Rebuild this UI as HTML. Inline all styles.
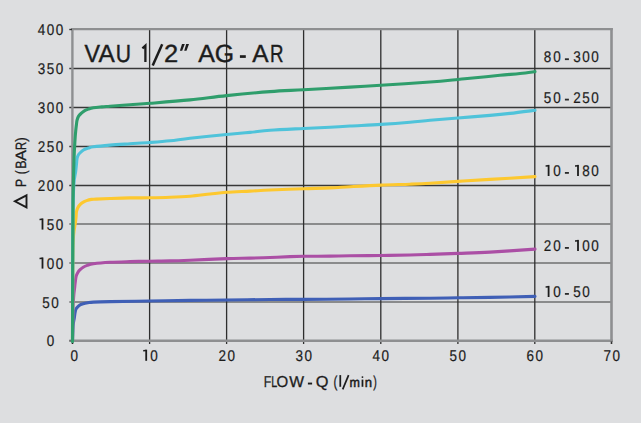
<!DOCTYPE html>
<html><head><meta charset="utf-8"><style>
html,body{margin:0;padding:0;background:#dddee0;width:641px;height:423px;overflow:hidden}
svg{position:absolute;left:0;top:0;display:block}
text{font-family:"Liberation Sans",sans-serif;text-rendering:geometricPrecision}
</style></head><body>
<svg width="641" height="423" viewBox="0 0 641 423">
<rect x="0" y="0" width="641" height="423" fill="#dddee0"/>
<line x1="69.3" y1="302.00" x2="611.5" y2="302.00" stroke="#383838" stroke-width="1.2"/>
<line x1="69.3" y1="263.00" x2="611.5" y2="263.00" stroke="#383838" stroke-width="1.2"/>
<line x1="69.3" y1="224.00" x2="611.5" y2="224.00" stroke="#383838" stroke-width="1.2"/>
<line x1="69.3" y1="185.50" x2="611.5" y2="185.50" stroke="#383838" stroke-width="1.5"/>
<line x1="69.3" y1="146.50" x2="611.5" y2="146.50" stroke="#383838" stroke-width="1.5"/>
<line x1="69.3" y1="107.50" x2="611.5" y2="107.50" stroke="#383838" stroke-width="1.5"/>
<line x1="69.3" y1="68.50" x2="611.5" y2="68.50" stroke="#383838" stroke-width="1.5"/>
<line x1="149.60" y1="29" x2="149.60" y2="344" stroke="#2e2e2e" stroke-width="1.3"/>
<line x1="226.60" y1="29" x2="226.60" y2="344" stroke="#2e2e2e" stroke-width="1.3"/>
<line x1="303.60" y1="29" x2="303.60" y2="344" stroke="#2e2e2e" stroke-width="1.3"/>
<line x1="380.80" y1="29" x2="380.80" y2="344" stroke="#2e2e2e" stroke-width="1.3"/>
<line x1="457.90" y1="29" x2="457.90" y2="344" stroke="#2e2e2e" stroke-width="1.3"/>
<line x1="534.80" y1="29" x2="534.80" y2="344" stroke="#2e2e2e" stroke-width="1.3"/>
<line x1="71.2" y1="29.1" x2="612.8" y2="29.1" stroke="#8e8f91" stroke-width="2.1"/>
<line x1="611.5" y1="28.05" x2="611.5" y2="341.95" stroke="#8e8f91" stroke-width="2.6"/>
<line x1="69.3" y1="340.75" x2="612.8" y2="340.75" stroke="#8e8f91" stroke-width="2.4"/>
<line x1="72.4" y1="28.05" x2="72.4" y2="341.95" stroke="#8e8f91" stroke-width="2.4"/>
<line x1="69.3" y1="29.5" x2="72" y2="29.5" stroke="#333" stroke-width="1.4"/>
<line x1="69.3" y1="340.75" x2="72" y2="340.75" stroke="#666" stroke-width="1.4"/>
<line x1="72.5" y1="341.5" x2="72.5" y2="344" stroke="#222" stroke-width="1.6"/>
<line x1="611.5" y1="341.5" x2="611.5" y2="344" stroke="#333" stroke-width="1.6"/>
<path d="M72.50,341.00 C72.62,338.33 72.90,328.83 73.20,325.00 C73.50,321.17 73.97,320.17 74.30,318.00 C74.63,315.83 74.90,313.52 75.20,312.00 C75.50,310.48 75.68,309.77 76.10,308.90 C76.52,308.03 77.03,307.47 77.70,306.80 C78.37,306.13 79.18,305.42 80.10,304.90 C81.02,304.38 81.92,304.05 83.20,303.70 C84.48,303.35 86.10,303.07 87.80,302.80 C89.50,302.53 89.70,302.30 93.40,302.10 C97.10,301.90 100.63,301.78 110.00,301.60 C119.37,301.42 136.27,301.20 149.60,301.00 C162.93,300.80 177.17,300.57 190.00,300.40 C202.83,300.23 213.27,300.15 226.60,300.00 C239.93,299.85 257.17,299.61 270.00,299.50 C282.83,299.39 290.27,299.43 303.60,299.35 C316.93,299.27 337.13,299.12 350.00,299.00 C362.87,298.88 367.47,298.73 380.80,298.60 C394.13,298.47 417.15,298.33 430.00,298.20 C442.85,298.07 447.90,297.93 457.90,297.80 C467.90,297.67 477.15,297.63 490.00,297.40 C502.85,297.17 527.50,296.57 535.00,296.40" fill="none" stroke="#3f5fb6" stroke-width="3.1" stroke-linecap="round" stroke-linejoin="round"/>
<path d="M72.50,341.00 C72.57,335.83 72.68,317.67 72.90,310.00 C73.12,302.33 73.52,298.67 73.80,295.00 C74.08,291.33 74.37,290.07 74.60,288.00 C74.83,285.93 74.95,284.53 75.20,282.60 C75.45,280.67 75.68,278.04 76.10,276.40 C76.52,274.76 77.03,273.87 77.70,272.75 C78.37,271.63 79.18,270.62 80.10,269.70 C81.02,268.77 82.02,267.92 83.20,267.20 C84.38,266.48 85.50,265.97 87.20,265.40 C88.90,264.83 89.60,264.32 93.40,263.80 C97.20,263.28 103.90,262.67 110.00,262.30 C116.10,261.93 123.40,261.78 130.00,261.60 C136.60,261.42 142.93,261.32 149.60,261.20 C156.27,261.08 163.27,261.07 170.00,260.90 C176.73,260.73 180.57,260.58 190.00,260.20 C199.43,259.82 216.60,258.95 226.60,258.60 C236.60,258.25 242.77,258.28 250.00,258.10 C257.23,257.92 263.33,257.75 270.00,257.50 C276.67,257.25 284.40,256.80 290.00,256.60 C295.60,256.40 296.93,256.38 303.60,256.30 C310.27,256.22 322.27,256.18 330.00,256.10 C337.73,256.02 341.53,255.90 350.00,255.80 C358.47,255.70 370.80,255.63 380.80,255.50 C390.80,255.37 401.80,255.18 410.00,255.00 C418.20,254.82 422.02,254.67 430.00,254.40 C437.98,254.13 447.90,253.78 457.90,253.40 C467.90,253.02 477.15,252.82 490.00,252.10 C502.85,251.38 527.50,249.60 535.00,249.10" fill="none" stroke="#ab4fa5" stroke-width="3.1" stroke-linecap="round" stroke-linejoin="round"/>
<path d="M72.50,341.00 C72.55,327.50 72.62,277.67 72.80,260.00 C72.98,242.33 73.15,241.33 73.60,235.00 C74.05,228.67 75.08,225.07 75.50,222.00 C75.92,218.93 75.94,218.32 76.10,216.60 C76.26,214.88 76.18,213.13 76.45,211.70 C76.72,210.27 77.14,209.13 77.70,208.00 C78.26,206.87 78.93,205.83 79.80,204.90 C80.67,203.97 81.77,203.12 82.90,202.40 C84.03,201.68 85.17,201.10 86.60,200.60 C88.03,200.10 89.93,199.65 91.50,199.40 C93.07,199.15 92.92,199.25 96.00,199.10 C99.08,198.95 104.33,198.70 110.00,198.50 C115.67,198.30 123.40,198.02 130.00,197.90 C136.60,197.78 142.93,197.90 149.60,197.80 C156.27,197.70 163.27,197.57 170.00,197.30 C176.73,197.03 183.33,196.75 190.00,196.20 C196.67,195.65 203.90,194.65 210.00,194.00 C216.10,193.35 219.93,192.78 226.60,192.30 C233.27,191.82 242.77,191.48 250.00,191.10 C257.23,190.72 261.07,190.39 270.00,190.00 C278.93,189.61 293.60,189.10 303.60,188.75 C313.60,188.40 322.27,188.24 330.00,187.90 C337.73,187.56 341.53,187.17 350.00,186.70 C358.47,186.23 370.80,185.52 380.80,185.10 C390.80,184.68 401.80,184.50 410.00,184.20 C418.20,183.90 422.02,183.77 430.00,183.30 C437.98,182.83 447.90,182.05 457.90,181.40 C467.90,180.75 477.15,180.20 490.00,179.40 C502.85,178.60 527.50,177.07 535.00,176.60" fill="none" stroke="#fdc82f" stroke-width="3.1" stroke-linecap="round" stroke-linejoin="round"/>
<path d="M72.50,341.00 C72.57,320.83 72.68,246.00 72.90,220.00 C73.12,194.00 73.35,193.00 73.80,185.00 C74.25,177.00 75.16,175.43 75.60,172.00 C76.04,168.57 76.20,166.70 76.45,164.40 C76.70,162.10 76.74,159.85 77.10,158.20 C77.46,156.55 77.93,155.57 78.60,154.50 C79.27,153.43 80.18,152.62 81.10,151.80 C82.02,150.98 82.88,150.22 84.10,149.60 C85.32,148.98 86.85,148.57 88.40,148.10 C89.95,147.63 89.80,147.30 93.40,146.80 C97.00,146.30 103.90,145.61 110.00,145.10 C116.10,144.59 123.40,144.18 130.00,143.75 C136.60,143.32 142.93,142.99 149.60,142.50 C156.27,142.01 163.27,141.52 170.00,140.80 C176.73,140.08 180.57,139.25 190.00,138.20 C199.43,137.15 216.60,135.47 226.60,134.50 C236.60,133.53 242.77,133.10 250.00,132.40 C257.23,131.70 261.07,130.95 270.00,130.30 C278.93,129.65 293.60,129.01 303.60,128.50 C313.60,127.99 322.27,127.67 330.00,127.25 C337.73,126.83 341.53,126.47 350.00,126.00 C358.47,125.53 370.80,125.03 380.80,124.40 C390.80,123.78 401.80,122.95 410.00,122.25 C418.20,121.55 422.02,120.91 430.00,120.20 C437.98,119.49 447.90,118.80 457.90,118.00 C467.90,117.20 481.32,116.17 490.00,115.40 C498.68,114.63 502.50,114.25 510.00,113.40 C517.50,112.55 530.83,110.82 535.00,110.30" fill="none" stroke="#4fc3da" stroke-width="3.1" stroke-linecap="round" stroke-linejoin="round"/>
<path d="M72.50,341.50 C72.52,332.92 72.50,313.58 72.60,290.00 C72.70,266.42 72.87,221.67 73.10,200.00 C73.33,178.33 73.68,170.00 74.00,160.00 C74.32,150.00 74.70,145.00 75.00,140.00 C75.30,135.00 75.55,132.67 75.80,130.00 C76.05,127.33 76.28,125.67 76.50,124.00 C76.72,122.33 76.75,121.32 77.10,120.00 C77.45,118.68 77.88,117.25 78.60,116.10 C79.32,114.95 80.38,114.02 81.40,113.10 C82.43,112.18 83.58,111.27 84.75,110.60 C85.92,109.93 86.96,109.57 88.40,109.10 C89.84,108.63 91.15,108.17 93.40,107.80 C95.65,107.43 99.13,107.16 101.90,106.90 C104.67,106.64 105.32,106.62 110.00,106.25 C114.68,105.88 123.33,105.19 130.00,104.70 C136.67,104.21 140.00,104.10 150.00,103.30 C160.00,102.50 177.23,101.18 190.00,99.90 C202.77,98.62 213.27,96.98 226.60,95.60 C239.93,94.22 257.17,92.57 270.00,91.60 C282.83,90.62 290.27,90.50 303.60,89.75 C316.93,89.00 337.13,87.85 350.00,87.10 C362.87,86.35 367.47,86.10 380.80,85.25 C394.13,84.40 417.15,82.96 430.00,82.00 C442.85,81.04 451.23,80.12 457.90,79.50 C464.57,78.88 462.98,79.00 470.00,78.30 C477.02,77.60 491.67,76.10 500.00,75.30 C508.33,74.50 514.17,74.12 520.00,73.50 C525.83,72.88 532.50,71.92 535.00,71.60" fill="none" stroke="#2f9e6c" stroke-width="3.1" stroke-linecap="round" stroke-linejoin="round"/>
<text transform="translate(50.40,346.20) scale(0.87,1)" text-anchor="middle" font-size="15.50" fill="#1c1c1c" stroke="#1c1c1c" stroke-width="0.2">0</text>
<text transform="translate(45.90,307.60) scale(0.87,1)" text-anchor="middle" font-size="15.50" fill="#1c1c1c" stroke="#1c1c1c" stroke-width="0.2">5</text>
<text transform="translate(54.90,307.60) scale(0.87,1)" text-anchor="middle" font-size="15.50" fill="#1c1c1c" stroke="#1c1c1c" stroke-width="0.2">0</text>
<rect x="41.60" y="257.48" width="1.8" height="11.12" fill="#1c1c1c"/>
<path d="M39.50,257.78 L42.50,257.48 L42.50,258.98 L39.50,259.28 Z" fill="#1c1c1c"/>
<text transform="translate(50.40,268.60) scale(0.87,1)" text-anchor="middle" font-size="15.50" fill="#1c1c1c" stroke="#1c1c1c" stroke-width="0.2">0</text>
<text transform="translate(59.40,268.60) scale(0.87,1)" text-anchor="middle" font-size="15.50" fill="#1c1c1c" stroke="#1c1c1c" stroke-width="0.2">0</text>
<rect x="41.60" y="218.48" width="1.8" height="11.12" fill="#1c1c1c"/>
<path d="M39.50,218.78 L42.50,218.48 L42.50,219.98 L39.50,220.28 Z" fill="#1c1c1c"/>
<text transform="translate(50.40,229.60) scale(0.87,1)" text-anchor="middle" font-size="15.50" fill="#1c1c1c" stroke="#1c1c1c" stroke-width="0.2">5</text>
<text transform="translate(59.40,229.60) scale(0.87,1)" text-anchor="middle" font-size="15.50" fill="#1c1c1c" stroke="#1c1c1c" stroke-width="0.2">0</text>
<text transform="translate(41.40,190.60) scale(0.87,1)" text-anchor="middle" font-size="15.50" fill="#1c1c1c" stroke="#1c1c1c" stroke-width="0.2">2</text>
<text transform="translate(50.40,190.60) scale(0.87,1)" text-anchor="middle" font-size="15.50" fill="#1c1c1c" stroke="#1c1c1c" stroke-width="0.2">0</text>
<text transform="translate(59.40,190.60) scale(0.87,1)" text-anchor="middle" font-size="15.50" fill="#1c1c1c" stroke="#1c1c1c" stroke-width="0.2">0</text>
<text transform="translate(41.40,151.60) scale(0.87,1)" text-anchor="middle" font-size="15.50" fill="#1c1c1c" stroke="#1c1c1c" stroke-width="0.2">2</text>
<text transform="translate(50.40,151.60) scale(0.87,1)" text-anchor="middle" font-size="15.50" fill="#1c1c1c" stroke="#1c1c1c" stroke-width="0.2">5</text>
<text transform="translate(59.40,151.60) scale(0.87,1)" text-anchor="middle" font-size="15.50" fill="#1c1c1c" stroke="#1c1c1c" stroke-width="0.2">0</text>
<text transform="translate(41.40,112.60) scale(0.87,1)" text-anchor="middle" font-size="15.50" fill="#1c1c1c" stroke="#1c1c1c" stroke-width="0.2">3</text>
<text transform="translate(50.40,112.60) scale(0.87,1)" text-anchor="middle" font-size="15.50" fill="#1c1c1c" stroke="#1c1c1c" stroke-width="0.2">0</text>
<text transform="translate(59.40,112.60) scale(0.87,1)" text-anchor="middle" font-size="15.50" fill="#1c1c1c" stroke="#1c1c1c" stroke-width="0.2">0</text>
<text transform="translate(41.40,73.60) scale(0.87,1)" text-anchor="middle" font-size="15.50" fill="#1c1c1c" stroke="#1c1c1c" stroke-width="0.2">3</text>
<text transform="translate(50.40,73.60) scale(0.87,1)" text-anchor="middle" font-size="15.50" fill="#1c1c1c" stroke="#1c1c1c" stroke-width="0.2">5</text>
<text transform="translate(59.40,73.60) scale(0.87,1)" text-anchor="middle" font-size="15.50" fill="#1c1c1c" stroke="#1c1c1c" stroke-width="0.2">0</text>
<text transform="translate(41.40,34.70) scale(0.87,1)" text-anchor="middle" font-size="15.50" fill="#1c1c1c" stroke="#1c1c1c" stroke-width="0.2">4</text>
<text transform="translate(50.40,34.70) scale(0.87,1)" text-anchor="middle" font-size="15.50" fill="#1c1c1c" stroke="#1c1c1c" stroke-width="0.2">0</text>
<text transform="translate(59.40,34.70) scale(0.87,1)" text-anchor="middle" font-size="15.50" fill="#1c1c1c" stroke="#1c1c1c" stroke-width="0.2">0</text>
<text transform="translate(74.20,360.80) scale(0.87,1)" text-anchor="middle" font-size="15.50" fill="#1c1c1c" stroke="#1c1c1c" stroke-width="0.2">0</text>
<rect x="145.30" y="349.68" width="1.8" height="11.12" fill="#1c1c1c"/>
<path d="M143.20,349.98 L146.20,349.68 L146.20,351.18 L143.20,351.48 Z" fill="#1c1c1c"/>
<text transform="translate(154.10,360.80) scale(0.87,1)" text-anchor="middle" font-size="15.50" fill="#1c1c1c" stroke="#1c1c1c" stroke-width="0.2">0</text>
<text transform="translate(222.14,360.80) scale(0.87,1)" text-anchor="middle" font-size="15.50" fill="#1c1c1c" stroke="#1c1c1c" stroke-width="0.2">2</text>
<text transform="translate(231.14,360.80) scale(0.87,1)" text-anchor="middle" font-size="15.50" fill="#1c1c1c" stroke="#1c1c1c" stroke-width="0.2">0</text>
<text transform="translate(299.18,360.80) scale(0.87,1)" text-anchor="middle" font-size="15.50" fill="#1c1c1c" stroke="#1c1c1c" stroke-width="0.2">3</text>
<text transform="translate(308.18,360.80) scale(0.87,1)" text-anchor="middle" font-size="15.50" fill="#1c1c1c" stroke="#1c1c1c" stroke-width="0.2">0</text>
<text transform="translate(376.22,360.80) scale(0.87,1)" text-anchor="middle" font-size="15.50" fill="#1c1c1c" stroke="#1c1c1c" stroke-width="0.2">4</text>
<text transform="translate(385.22,360.80) scale(0.87,1)" text-anchor="middle" font-size="15.50" fill="#1c1c1c" stroke="#1c1c1c" stroke-width="0.2">0</text>
<text transform="translate(453.26,360.80) scale(0.87,1)" text-anchor="middle" font-size="15.50" fill="#1c1c1c" stroke="#1c1c1c" stroke-width="0.2">5</text>
<text transform="translate(462.26,360.80) scale(0.87,1)" text-anchor="middle" font-size="15.50" fill="#1c1c1c" stroke="#1c1c1c" stroke-width="0.2">0</text>
<text transform="translate(530.30,360.80) scale(0.87,1)" text-anchor="middle" font-size="15.50" fill="#1c1c1c" stroke="#1c1c1c" stroke-width="0.2">6</text>
<text transform="translate(539.30,360.80) scale(0.87,1)" text-anchor="middle" font-size="15.50" fill="#1c1c1c" stroke="#1c1c1c" stroke-width="0.2">0</text>
<text transform="translate(607.34,360.80) scale(0.87,1)" text-anchor="middle" font-size="15.50" fill="#1c1c1c" stroke="#1c1c1c" stroke-width="0.2">7</text>
<text transform="translate(616.34,360.80) scale(0.87,1)" text-anchor="middle" font-size="15.50" fill="#1c1c1c" stroke="#1c1c1c" stroke-width="0.2">0</text>
<text transform="translate(547.50,62.30) scale(0.87,1)" text-anchor="middle" font-size="15.50" fill="#1c1c1c" stroke="#1c1c1c" stroke-width="0.2">8</text>
<text transform="translate(556.90,62.30) scale(0.87,1)" text-anchor="middle" font-size="15.50" fill="#1c1c1c" stroke="#1c1c1c" stroke-width="0.2">0</text>
<rect x="564.90" y="58.30" width="4.0" height="1.8" fill="#2a2a2a"/>
<text transform="translate(576.90,62.30) scale(0.87,1)" text-anchor="middle" font-size="15.50" fill="#1c1c1c" stroke="#1c1c1c" stroke-width="0.2">3</text>
<text transform="translate(586.00,62.30) scale(0.87,1)" text-anchor="middle" font-size="15.50" fill="#1c1c1c" stroke="#1c1c1c" stroke-width="0.2">0</text>
<text transform="translate(595.00,62.30) scale(0.87,1)" text-anchor="middle" font-size="15.50" fill="#1c1c1c" stroke="#1c1c1c" stroke-width="0.2">0</text>
<text transform="translate(547.50,102.70) scale(0.87,1)" text-anchor="middle" font-size="15.50" fill="#1c1c1c" stroke="#1c1c1c" stroke-width="0.2">5</text>
<text transform="translate(556.90,102.70) scale(0.87,1)" text-anchor="middle" font-size="15.50" fill="#1c1c1c" stroke="#1c1c1c" stroke-width="0.2">0</text>
<rect x="564.90" y="98.70" width="4.0" height="1.8" fill="#2a2a2a"/>
<text transform="translate(576.90,102.70) scale(0.87,1)" text-anchor="middle" font-size="15.50" fill="#1c1c1c" stroke="#1c1c1c" stroke-width="0.2">2</text>
<text transform="translate(586.00,102.70) scale(0.87,1)" text-anchor="middle" font-size="15.50" fill="#1c1c1c" stroke="#1c1c1c" stroke-width="0.2">5</text>
<text transform="translate(595.00,102.70) scale(0.87,1)" text-anchor="middle" font-size="15.50" fill="#1c1c1c" stroke="#1c1c1c" stroke-width="0.2">0</text>
<rect x="547.70" y="164.88" width="1.8" height="11.12" fill="#1c1c1c"/>
<path d="M545.60,165.18 L548.60,164.88 L548.60,166.38 L545.60,166.68 Z" fill="#1c1c1c"/>
<text transform="translate(556.90,176.00) scale(0.87,1)" text-anchor="middle" font-size="15.50" fill="#1c1c1c" stroke="#1c1c1c" stroke-width="0.2">0</text>
<rect x="564.90" y="172.00" width="4.0" height="1.8" fill="#2a2a2a"/>
<rect x="577.10" y="164.88" width="1.8" height="11.12" fill="#1c1c1c"/>
<path d="M575.00,165.18 L578.00,164.88 L578.00,166.38 L575.00,166.68 Z" fill="#1c1c1c"/>
<text transform="translate(586.00,176.00) scale(0.87,1)" text-anchor="middle" font-size="15.50" fill="#1c1c1c" stroke="#1c1c1c" stroke-width="0.2">8</text>
<text transform="translate(595.00,176.00) scale(0.87,1)" text-anchor="middle" font-size="15.50" fill="#1c1c1c" stroke="#1c1c1c" stroke-width="0.2">0</text>
<text transform="translate(547.50,251.00) scale(0.87,1)" text-anchor="middle" font-size="15.50" fill="#1c1c1c" stroke="#1c1c1c" stroke-width="0.2">2</text>
<text transform="translate(556.90,251.00) scale(0.87,1)" text-anchor="middle" font-size="15.50" fill="#1c1c1c" stroke="#1c1c1c" stroke-width="0.2">0</text>
<rect x="564.90" y="247.00" width="4.0" height="1.8" fill="#2a2a2a"/>
<rect x="577.10" y="239.88" width="1.8" height="11.12" fill="#1c1c1c"/>
<path d="M575.00,240.18 L578.00,239.88 L578.00,241.38 L575.00,241.68 Z" fill="#1c1c1c"/>
<text transform="translate(586.00,251.00) scale(0.87,1)" text-anchor="middle" font-size="15.50" fill="#1c1c1c" stroke="#1c1c1c" stroke-width="0.2">0</text>
<text transform="translate(595.00,251.00) scale(0.87,1)" text-anchor="middle" font-size="15.50" fill="#1c1c1c" stroke="#1c1c1c" stroke-width="0.2">0</text>
<rect x="547.70" y="285.88" width="1.8" height="11.12" fill="#1c1c1c"/>
<path d="M545.60,286.18 L548.60,285.88 L548.60,287.38 L545.60,287.68 Z" fill="#1c1c1c"/>
<text transform="translate(556.90,297.00) scale(0.87,1)" text-anchor="middle" font-size="15.50" fill="#1c1c1c" stroke="#1c1c1c" stroke-width="0.2">0</text>
<rect x="564.90" y="293.00" width="4.0" height="1.8" fill="#2a2a2a"/>
<text transform="translate(576.90,297.00) scale(0.87,1)" text-anchor="middle" font-size="15.50" fill="#1c1c1c" stroke="#1c1c1c" stroke-width="0.2">5</text>
<text transform="translate(586.00,297.00) scale(0.87,1)" text-anchor="middle" font-size="15.50" fill="#1c1c1c" stroke="#1c1c1c" stroke-width="0.2">0</text>
<text transform="translate(84.50,62.20) scale(0.937,1.000)" x="-0.11" y="0" font-size="24.80" fill="#1c1c1c" stroke="#1c1c1c" stroke-width="0.4">V</text>
<text transform="translate(98.60,62.20) scale(0.985,1.000)" x="-0.05" y="0" font-size="24.80" fill="#1c1c1c" stroke="#1c1c1c" stroke-width="0.4">A</text>
<text transform="translate(117.30,62.20) scale(0.852,1.000)" x="-1.91" y="0" font-size="24.80" fill="#1c1c1c" stroke="#1c1c1c" stroke-width="0.4">U</text>
<text transform="translate(165.30,62.20) scale(1.027,1.000)" x="-1.25" y="0" font-size="24.80" fill="#1c1c1c" stroke="#1c1c1c" stroke-width="0.4">2</text>
<text transform="translate(198.20,62.20) scale(1.009,1.000)" x="-0.05" y="0" font-size="24.80" fill="#1c1c1c" stroke="#1c1c1c" stroke-width="0.4">A</text>
<text transform="translate(216.10,62.20) scale(1.001,1.000)" x="-1.25" y="0" font-size="24.80" fill="#1c1c1c" stroke="#1c1c1c" stroke-width="0.4">G</text>
<text transform="translate(252.30,62.20) scale(0.985,1.000)" x="-0.05" y="0" font-size="24.80" fill="#1c1c1c" stroke="#1c1c1c" stroke-width="0.4">A</text>
<text transform="translate(271.40,62.20) scale(0.754,1.000)" x="-2.03" y="0" font-size="24.80" fill="#1c1c1c" stroke="#1c1c1c" stroke-width="0.4">R</text>
<path d="M145.4,62 L145.4,45.6 L142.4,48.3" fill="none" stroke="#1c1c1c" stroke-width="2.3" stroke-linejoin="miter"/>
<path d="M152.7,65.6 L162.2,44.2" fill="none" stroke="#1c1c1c" stroke-width="2.5"/>
<path d="M182,44 L184.8,44 L182.2,50.8 L179.9,50.8 Z M186.2,44 L189,44 L186.5,50.8 L184.2,50.8 Z" fill="#1c1c1c"/>
<rect x="239.9" y="55.2" width="5.9" height="2.7" fill="#1c1c1c"/>
<text transform="translate(264.73,386.80) scale(0.783,1.000)" x="-1.30" y="0" font-size="15.80" fill="#1c1c1c" stroke="#1c1c1c" stroke-width="0.3">F</text>
<text transform="translate(272.03,386.80) scale(0.682,1.000)" x="-1.30" y="0" font-size="15.80" fill="#1c1c1c" stroke="#1c1c1c" stroke-width="0.3">L</text>
<text transform="translate(277.33,386.80) scale(0.950,1.000)" x="-0.75" y="0" font-size="15.80" fill="#1c1c1c" stroke="#1c1c1c" stroke-width="0.3">O</text>
<text transform="translate(289.23,386.80) scale(0.991,1.000)" x="-0.07" y="0" font-size="15.80" fill="#1c1c1c" stroke="#1c1c1c" stroke-width="0.3">W</text>
<text transform="translate(316.62,386.80) scale(1.034,1.000)" x="-0.75" y="0" font-size="15.80" fill="#1c1c1c" stroke="#1c1c1c" stroke-width="0.3">Q</text>
<text transform="translate(334.23,386.80) scale(0.728,1.000)" x="-0.98" y="0" font-size="15.80" fill="#1c1c1c" stroke="#1c1c1c" stroke-width="0.3">(</text>
<text transform="translate(373.23,386.80) scale(0.680,1.000)" x="-0.09" y="0" font-size="15.80" fill="#1c1c1c" stroke="#1c1c1c" stroke-width="0.3">)</text>
<text transform="translate(350.23,386.80) scale(0.790,0.850)" x="-1.05" y="0" font-size="15.80" fill="#1c1c1c" stroke="#1c1c1c" stroke-width="0.6">m</text>
<text transform="translate(365.53,386.80) scale(0.827,0.850)" x="-1.05" y="0" font-size="15.80" fill="#1c1c1c" stroke="#1c1c1c" stroke-width="0.6">n</text>
<rect x="307.9" y="382.6" width="4.2" height="1.9" fill="#1c1c1c"/>
<rect x="339.4" y="375.1" width="1.75" height="11.7" fill="#1c1c1c"/>
<rect x="361.6" y="379.6" width="1.75" height="7.2" fill="#1c1c1c"/>
<circle cx="362.45" cy="377.1" r="0.95" fill="#1c1c1c"/>
<path d="M342.7,389.4 L348.6,375.2" fill="none" stroke="#1c1c1c" stroke-width="1.7"/>
<text transform="translate(26.10,186.00) rotate(-90) translate(0.10,0) scale(0.802,1)" x="-1.23" y="0" font-size="15.00" fill="#1c1c1c" stroke="#1c1c1c" stroke-width="0.3">P</text>
<text transform="translate(26.10,186.00) rotate(-90) translate(12.40,0) scale(0.754,1)" x="-0.93" y="0" font-size="15.00" fill="#1c1c1c" stroke="#1c1c1c" stroke-width="0.3">(</text>
<text transform="translate(26.10,186.00) rotate(-90) translate(18.20,0) scale(0.827,1)" x="-1.23" y="0" font-size="15.00" fill="#1c1c1c" stroke="#1c1c1c" stroke-width="0.3">B</text>
<text transform="translate(26.10,186.00) rotate(-90) translate(25.20,0) scale(1.066,1)" x="-0.03" y="0" font-size="15.00" fill="#1c1c1c" stroke="#1c1c1c" stroke-width="0.3">A</text>
<text transform="translate(26.10,186.00) rotate(-90) translate(36.90,0) scale(0.752,1)" x="-1.23" y="0" font-size="15.00" fill="#1c1c1c" stroke="#1c1c1c" stroke-width="0.3">R</text>
<text transform="translate(26.10,186.00) rotate(-90) translate(44.30,0) scale(0.905,1)" x="-0.09" y="0" font-size="15.00" fill="#1c1c1c" stroke="#1c1c1c" stroke-width="0.3">)</text>
<path d="M26.5,195.3 L26.5,207.4 L14.9,201.3 Z" fill="none" stroke="#1c1c1c" stroke-width="1.9" stroke-linejoin="miter"/>
</svg>
</body></html>
